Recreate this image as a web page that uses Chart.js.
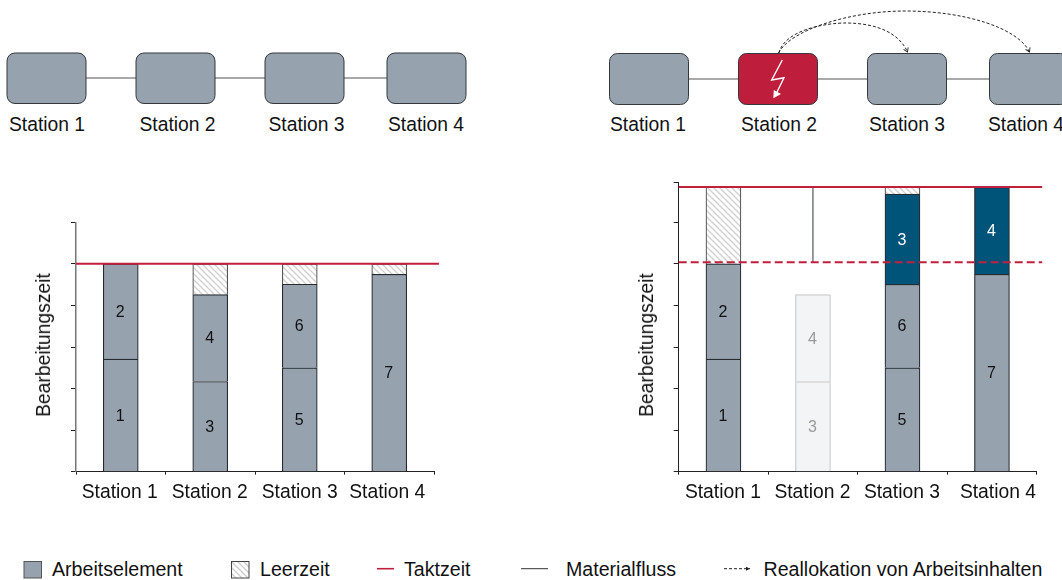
<!DOCTYPE html>
<html>
<head>
<meta charset="utf-8">
<title>Bearbeitungszeit</title>
<script src="https://cdn.jsdelivr.net/npm/chart.js@4"></script>
<style>
html, body { margin: 0; padding: 0; background: #fff; overflow: hidden; }
body { width: 1062px; height: 580px; position: relative; font-family: "Liberation Sans", Arial, sans-serif; color: #111; }
svg { position: absolute; left: 0; top: 0; }
svg text { font-size: 19.3px; fill: #111; }
svg .legend text { font-size: 19.6px; }
canvas { position: absolute; top: 170px; }
#chartLeft { left: 0; }
#chartRight { left: 600px; }
.ytitle { position: absolute; font-size: 19.3px; white-space: nowrap; transform: translate(-50%, -50%) rotate(-90deg); }
</style>
</head>
<body>
<svg width="1062" height="580">
  <defs>
    <pattern id="hatch" width="6" height="6" patternUnits="userSpaceOnUse">
      <rect width="6" height="6" fill="#fff"/>
      <path d="M-1 -1 L7 7 M-1 5 L1 7 M5 -1 L7 1" stroke="#cfcfcf" stroke-width="1.4"/>
    </pattern>
    <marker id="tip" markerWidth="6" markerHeight="6" refX="5" refY="3" orient="auto">
      <path d="M1 0.5 L5 3 L1 5.5" fill="none" stroke="#222" stroke-width="0.9"/>
    </marker>
    <marker id="legendTip" markerWidth="5" markerHeight="5" refX="4" refY="2.5" orient="auto">
      <path d="M0 0.5 L4 2.5 L0 4.5 Z" fill="#222"/>
    </marker>
  </defs>

  <!-- Linie vorher -->
  <line x1="85" y1="78" x2="387" y2="78" stroke="#555" stroke-width="1.2"/>
  <g fill="#96a2ae" stroke="#33383d" stroke-width="1">
    <rect x="7" y="53" width="79" height="50.5" rx="8"/>
    <rect x="136" y="53" width="79" height="50.5" rx="8"/>
    <rect x="265" y="53" width="79" height="50.5" rx="8"/>
    <rect x="387" y="53" width="79" height="50.5" rx="8"/>
  </g>
  <g text-anchor="middle">
    <text x="47" y="130.5">Station 1</text>
    <text x="177.5" y="130.5">Station 2</text>
    <text x="306.5" y="130.5">Station 3</text>
    <text x="426" y="130.5">Station 4</text>
  </g>

  <!-- Linie nachher -->
  <line x1="688" y1="79" x2="990" y2="79" stroke="#555" stroke-width="1.2"/>
  <g fill="#96a2ae" stroke="#33383d" stroke-width="1">
    <rect x="609.5" y="53.5" width="79" height="51" rx="8"/>
    <rect x="738.5" y="53.5" width="79" height="51" rx="8" fill="#be1e3c"/>
    <rect x="867.5" y="53.5" width="79" height="51" rx="8"/>
    <rect x="989.5" y="53.5" width="79" height="51" rx="8"/>
  </g>
  <polyline points="782.3,60 771.7,80 784,77.7 777,92" fill="none" stroke="#fff" stroke-width="1.4"/>
  <path d="M773.3 98.3 L773.8 90 L781 94 Z" fill="#fff"/>
  <g text-anchor="middle">
    <text x="648" y="130.5">Station 1</text>
    <text x="779" y="130.5">Station 2</text>
    <text x="907" y="130.5">Station 3</text>
    <text x="1026" y="130.5">Station 4</text>
  </g>
  <g fill="none" stroke="#222" stroke-width="1" stroke-dasharray="3 2">
    <path d="M778.7 53 C 786 28, 830 23, 845 23 C 880 23, 900 35, 907.5 52" marker-end="url(#tip)"/>
    <path d="M778.7 53 C 790 30, 850 11, 905 11 C 965 11, 1018 28, 1029.5 52" marker-end="url(#tip)"/>
  </g>

  <!-- Legende -->
  <g class="legend">
    <rect x="24" y="561.5" width="17.5" height="16.5" fill="#96a2ae" stroke="#555" stroke-width="1"/>
    <text x="52" y="575.5">Arbeitselement</text>
    <rect x="231.5" y="561.5" width="17.5" height="16.5" fill="url(#hatch)" stroke="#444" stroke-width="1"/>
    <text x="260" y="575.5">Leerzeit</text>
    <line x1="377" y1="568.7" x2="394" y2="568.7" stroke="#be1e3c" stroke-width="1.6"/>
    <text x="404" y="575.5">Taktzeit</text>
    <line x1="521" y1="568.7" x2="548" y2="568.7" stroke="#333" stroke-width="1"/>
    <text x="566" y="575.5">Materialfluss</text>
    <line x1="724" y1="568.7" x2="750" y2="568.7" stroke="#222" stroke-width="1" stroke-dasharray="3 2" marker-end="url(#legendTip)"/>
    <text x="763.5" y="575.5">Reallokation von Arbeitsinhalten</text>
  </g>
</svg>

<canvas id="chartLeft" width="450" height="340"></canvas>
<canvas id="chartRight" width="462" height="340"></canvas>
<div class="ytitle" style="left:43.5px;top:345px">Bearbeitungszeit</div>
<div class="ytitle" style="left:646.5px;top:345px">Bearbeitungszeit</div>

<script>
var stations = ['Station 1', 'Station 2', 'Station 3', 'Station 4'];

// Vorher
var leftLower = [2.71, 2.17, 2.5, 4.75];
var leftUpper = [2.29, 2.09, 2.01, null];
var leftIdle = [null, 0.74, 0.49, 0.25];
var leftTakt = 5;

// Nachher
var rightLower = [2.71, 2.17, 2.5, 4.75];
var rightUpper = [2.29, 2.09, 2.01, 2.09];
var rightMoved = [null, null, 2.17, null];
var rightIdle = [1.85, null, 0.17, null];
var rightTakt = 6.85;
var oldTakt = 5.04;

// Nummern der Arbeitselemente
var lowerNumbers = [1, 3, 5, 7];
var leftUpperNumbers = [2, 4, 6, null];
var rightUpperNumbers = [2, 4, 6, 4];
var movedNumbers = [null, null, 3, null];

var GREY = '#96a2ae', BLUE = '#00547a', RED = '#c01f3e', EDGE = '#262b30';
var FADED = '#f3f4f6', FADED_EDGE = '#c9c9c9', FADED_TEXT = '#9a9a9a';

function hatchPattern(ctx) {
    var tile = document.createElement('canvas');
    tile.width = 6;
    tile.height = 6;
    var t = tile.getContext('2d');
    t.fillStyle = '#fff';
    t.fillRect(0, 0, 6, 6);
    t.strokeStyle = '#d2d2d2';
    t.lineWidth = 1.4;
    t.beginPath();
    t.moveTo(-1, -1); t.lineTo(7, 7);
    t.moveTo(-1, 5); t.lineTo(1, 7);
    t.moveTo(5, -1); t.lineTo(7, 1);
    t.stroke();
    return ctx.createPattern(tile, 'repeat');
}

function bar(data, fill, edge, numbers, textColor) {
    return {
        stack: 'station',
        data: data,
        backgroundColor: fill,
        borderColor: edge,
        borderWidth: 1.2,
        barThickness: 35,
        numbers: numbers,
        textColor: textColor
    };
}

// Taktlinien und Materialfluss ueber die Skalen des Diagramms legen
var guidePlugin = {
    id: 'guides',
    afterDatasetsDraw: function (chart, args, opts) {
        var ctx = chart.ctx, x = chart.scales.x, y = chart.scales.y;
        opts.lines.forEach(function (g) {
            ctx.save();
            ctx.strokeStyle = g.color;
            ctx.lineWidth = g.width;
            ctx.setLineDash(g.dash || []);
            ctx.beginPath();
            if (g.station !== undefined) {
                ctx.moveTo(x.getPixelForValue(g.station), y.getPixelForValue(g.from));
                ctx.lineTo(x.getPixelForValue(g.station), y.getPixelForValue(g.to));
            } else {
                ctx.moveTo(x.left, y.getPixelForValue(g.value));
                ctx.lineTo(x.right + g.over, y.getPixelForValue(g.value));
            }
            ctx.stroke();
            ctx.restore();
        });
    }
};

// Nummern mittig in die Balken schreiben
var numberPlugin = {
    id: 'numbers',
    afterDatasetsDraw: function (chart) {
        var ctx = chart.ctx;
        chart.data.datasets.forEach(function (ds, d) {
            if (!ds.numbers) return;
            chart.getDatasetMeta(d).data.forEach(function (el, i) {
                if (ds.numbers[i] === null) return;
                var p = el.getCenterPoint();
                ctx.save();
                ctx.font = '16px "Liberation Sans"';
                ctx.textAlign = 'center';
                ctx.textBaseline = 'middle';
                ctx.fillStyle = ds.textColor[i];
                ctx.fillText(ds.numbers[i], p.x - 0.5, p.y + 1);
                ctx.restore();
            });
        });
    }
};

// letzte Achsenbeschriftung steht im Original leicht versetzt
var labelShiftPlugin = {
    id: 'labelShift',
    beforeDraw: function (chart, args, opts) {
        var items = chart.scales.x.getLabelItems();
        items.forEach(function (item, i) {
            if (!item.shifted) {
                item.options.translation[0] += opts.shift[i];
                item.shifted = true;
            }
        });
    }
};

function makeChart(id, datasets, yMax, box, shift, lines, yAxisColor, yAxisWidth) {
    return new Chart(document.getElementById(id).getContext('2d'), {
        type: 'bar',
        data: { labels: stations, datasets: datasets },
        plugins: [guidePlugin, numberPlugin, labelShiftPlugin],
        options: {
            responsive: false,
            animation: false,
            layout: { padding: { left: 0, right: box.right, top: box.top, bottom: 0 } },
            plugins: {
                legend: { display: false },
                tooltip: { enabled: false },
                labelShift: { shift: shift },
                guides: { lines: lines }
            },
            scales: {
                x: {
                    type: 'category',
                    stacked: true,
                    grid: { drawOnChartArea: false, color: '#222', tickLength: 3, offset: true },
                    border: { color: '#222', width: 1 },
                    ticks: {
                        color: '#111',
                        padding: 6,
                        maxRotation: 0,
                        autoSkip: false,
                        font: { family: '"Liberation Sans"', size: 19.3 }
                    },
                    afterFit: function (s) { s.height = 38.3; }
                },
                y: {
                    stacked: true,
                    min: 0,
                    max: yMax,
                    afterFit: function (s) { s.width = box.left; },
                    grid: { drawOnChartArea: false, color: '#222', tickLength: 5 },
                    border: { color: yAxisColor, width: yAxisWidth },
                    ticks: { stepSize: 1, display: false }
                }
            }
        }
    });
}

var ctxLeft = document.getElementById('chartLeft').getContext('2d');
var ctxRight = document.getElementById('chartRight').getContext('2d');
var black = ['#111', '#111', '#111', '#111'];

makeChart('chartLeft', [
    bar(leftLower, GREY, EDGE, lowerNumbers, black),
    bar(leftUpper, GREY, EDGE, leftUpperNumbers, black),
    bar(leftIdle, hatchPattern(ctxLeft), '#555555')
], 6, { left: 76, right: 16, top: 52.3 }, [-1, -0.5, 0, -2],
    [{ value: leftTakt, color: RED, width: 2, over: 5 }], '#777777', 1.5);

makeChart('chartRight', [
    bar(rightLower, [GREY, FADED, GREY, GREY], [EDGE, FADED_EDGE, EDGE, EDGE], lowerNumbers,
        ['#111', FADED_TEXT, '#111', '#111']),
    bar(rightUpper, [GREY, FADED, GREY, BLUE], [EDGE, FADED_EDGE, EDGE, EDGE], rightUpperNumbers,
        ['#111', FADED_TEXT, '#111', '#ffffff']),
    bar(rightMoved, BLUE, EDGE, movedNumbers, ['', '', '#ffffff', '']),
    bar(rightIdle, hatchPattern(ctxRight), '#555555')
], 6.955, { left: 78.7, right: 25.3, top: 12.7 }, [-0.5, -0.5, -0.5, 6],
    [
        { station: 1, from: oldTakt, to: rightTakt, color: '#30363c', width: 1 },
        { value: oldTakt, color: RED, width: 2, dash: [8, 4], over: 5.5 },
        { value: rightTakt, color: RED, width: 2, over: 5.5 }
    ], '#222222', 1);
</script>
</body>
</html>
